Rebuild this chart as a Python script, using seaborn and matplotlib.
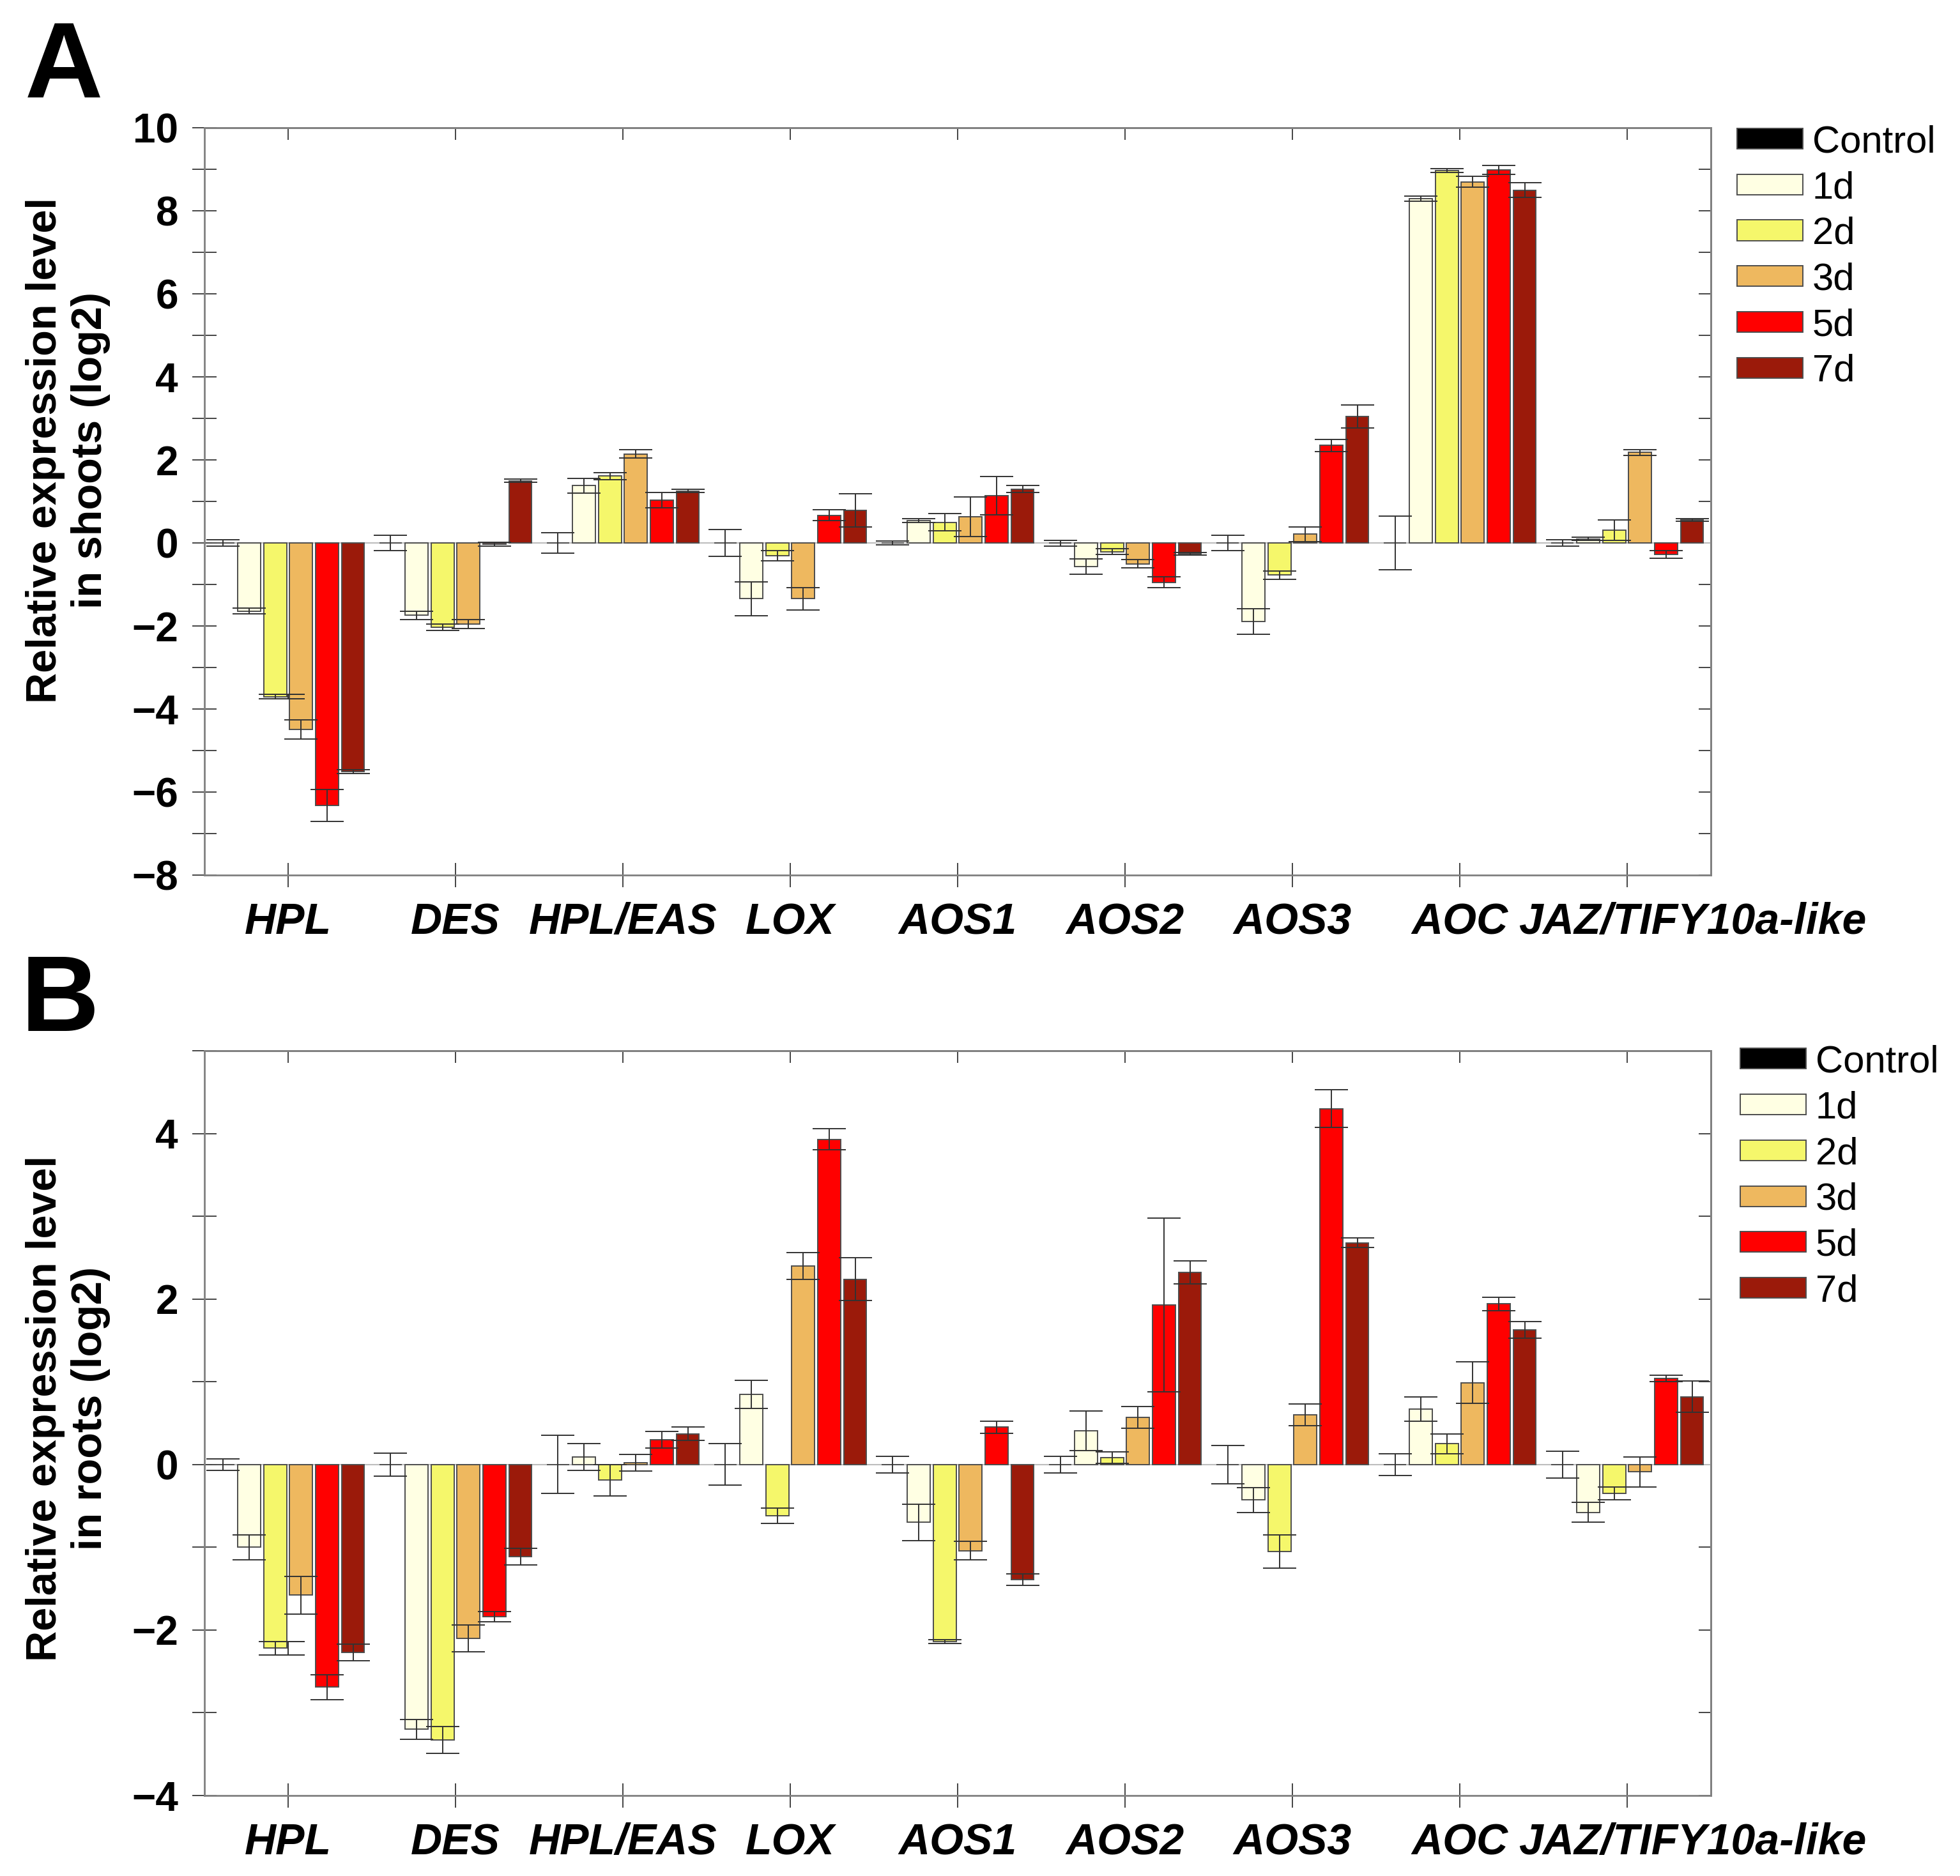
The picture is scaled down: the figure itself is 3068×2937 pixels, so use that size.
import numpy as np
import pandas as pd
import matplotlib
matplotlib.use("Agg")
import matplotlib.pyplot as plt
from matplotlib.ticker import MultipleLocator
from matplotlib.transforms import ScaledTranslation
import seaborn as sns

# ---------------- data ----------------
GENES = ["HPL", "DES", "HPL/EAS", "LOX", "AOS1", "AOS2", "AOS3", "AOC", "JAZ/TIFY10a-like"]
TIMES = ["Control", "1d", "2d", "3d", "5d", "7d"]
COLORS = ["#000000", "#FFFFE3", "#F5F76B", "#EEB85F", "#FF0000", "#9B1A0A"]

# Panel A: shoots (log2 relative expression), order follows GENES
SHOOT_CONTROL = [0.0, 0.0, 0.0, 0.0, 0.0, 0.0, 0.0, 0.0, 0.0]
SHOOT_1D = [-1.64, -1.74, 1.38, -1.34, 0.54, -0.57, -1.89, 8.29, 0.10]
SHOOT_2D = [-3.70, -2.03, 1.61, -0.31, 0.50, -0.21, -0.77, 8.97, 0.31]
SHOOT_3D = [-4.49, -1.95, 2.14, -1.34, 0.63, -0.50, 0.21, 8.70, 2.18]
SHOOT_5D = [-6.32, -0.03, 1.03, 0.67, 1.14, -0.95, 2.35, 8.99, -0.28]
SHOOT_7D = [-5.51, 1.50, 1.25, 0.78, 1.30, -0.26, 3.05, 8.50, 0.56]

SHOOT_CONTROL_ERR = [0.08, 0.19, 0.24, 0.32, 0.05, 0.07, 0.19, 0.65, 0.08]
SHOOT_1D_ERR = [0.07, 0.10, 0.18, 0.41, 0.04, 0.19, 0.31, 0.06, 0.04]
SHOOT_2D_ERR = [0.05, 0.07, 0.08, 0.12, 0.21, 0.07, 0.10, 0.05, 0.25]
SHOOT_3D_ERR = [0.23, 0.11, 0.10, 0.27, 0.48, 0.10, 0.18, 0.13, 0.07]
SHOOT_5D_ERR = [0.38, 0.05, 0.19, 0.13, 0.46, 0.13, 0.15, 0.11, 0.09]
SHOOT_7D_ERR = [0.05, 0.04, 0.04, 0.40, 0.08, 0.03, 0.28, 0.17, 0.03]

# Panel B: roots
ROOT_CONTROL = [0.0, 0.0, 0.0, 0.0, 0.0, 0.0, 0.0, 0.0, 0.0]
ROOT_1D = [-1.00, -3.20, 0.09, 0.85, -0.70, 0.41, -0.43, 0.67, -0.58]
ROOT_2D = [-2.22, -3.33, -0.19, -0.62, -2.14, 0.08, -1.05, 0.25, -0.35]
ROOT_3D = [-1.58, -2.10, 0.02, 2.40, -1.04, 0.57, 0.60, 0.99, -0.09]
ROOT_5D = [-2.69, -1.84, 0.30, 3.93, 0.45, 1.93, 4.30, 1.94, 1.04]
ROOT_7D = [-2.27, -1.11, 0.37, 2.24, -1.39, 2.32, 2.68, 1.63, 0.82]

ROOT_CONTROL_ERR = [0.07, 0.14, 0.35, 0.25, 0.10, 0.10, 0.23, 0.13, 0.16]
ROOT_1D_ERR = [0.15, 0.12, 0.16, 0.17, 0.22, 0.24, 0.15, 0.15, 0.12]
ROOT_2D_ERR = [0.08, 0.16, 0.19, 0.09, 0.02, 0.07, 0.20, 0.12, 0.08]
ROOT_3D_ERR = [0.23, 0.16, 0.10, 0.16, 0.11, 0.13, 0.13, 0.25, 0.18]
ROOT_5D_ERR = [0.15, 0.06, 0.10, 0.13, 0.07, 1.05, 0.23, 0.08, 0.04]
ROOT_7D_ERR = [0.10, 0.10, 0.08, 0.26, 0.07, 0.14, 0.06, 0.10, 0.19]

# ---------------- style ----------------
plt.rcParams['font.family'] = ['Liberation Sans', 'DejaVu Sans']
SPINE_C = "#808080"
TICK_C = "#444444"
EDGE_C = "#4d4d4d"
ERR_C = "#333333"
WIDTH = 0.93
NH = len(TIMES)


def fmt(v):
    return str(int(v)).replace("-", "\u2212")


def draw_panel(fig, ax, means, errs, ylim, major_ticks, ylabel, label_y, leg_anchor):
    rows = []
    for t, vals in zip(TIMES, means):
        for g, v in zip(GENES, vals):
            rows.append({"gene": g, "time": t, "value": v})
    df = pd.DataFrame(rows)

    ax.axhline(0, color="#BDBDBD", lw=1.5, zorder=0.8)
    sns.barplot(data=df, x="gene", y="value", hue="time", order=GENES,
                hue_order=TIMES, palette=COLORS, saturation=1, width=WIDTH,
                gap=0.12, errorbar=None, edgecolor=EDGE_C, linewidth=1.4,
                ax=ax, zorder=2)

    slot = WIDTH / NH
    xs, ys, es = [], [], []
    for p in ax.patches:
        if p.get_width() > 0.5:
            continue
        xc = p.get_x() + p.get_width() / 2
        gi = int(round(xc))
        hi = int(round((xc - gi) / slot + (NH - 1) / 2))
        xs.append(xc)
        ys.append(means[hi][gi])
        es.append(errs[hi][gi])
    ax.errorbar(xs, ys, yerr=es, fmt="none", ecolor=ERR_C, elinewidth=1.4,
                capsize=19, capthick=1.4, zorder=4)

    ax.set_xlim(-0.5, len(GENES) - 0.5)
    ax.set_ylim(*ylim)
    ax.set_xticks(range(len(GENES)), GENES, fontsize=49, fontweight="bold",
                  fontstyle="italic")
    ax.set_yticks(major_ticks, [fmt(v) for v in major_ticks], fontsize=46,
                  fontweight="bold")
    ax.yaxis.set_minor_locator(MultipleLocator(1))
    ax.tick_params(axis="y", which="both", direction="inout", length=27,
                   width=1.4, color=TICK_C, left=True, right=False, pad=16)
    ax.tick_params(axis="x", which="major", direction="inout", length=27,
                   width=1.4, color=TICK_C, bottom=True, top=False, pad=17)
    # the long last label sits to the right of its tick, as in the original
    last = ax.get_xticklabels()[-1]
    last.set_transform(last.get_transform()
                       + ScaledTranslation(1.02, 0, fig.dpi_scale_trans))
    ax.set_xlabel("")
    for s in ax.spines.values():
        s.set_color(SPINE_C)
        s.set_linewidth(2)

    secy = ax.secondary_yaxis("right")
    secy.set_yticks(np.arange(ylim[0], ylim[1] + 1, 1))
    secy.tick_params(axis="y", direction="in", length=14, width=1.4,
                     color=TICK_C, labelright=False)
    secx = ax.secondary_xaxis("top")
    secx.set_xticks(range(len(GENES)))
    secx.tick_params(axis="x", direction="in", length=14, width=1.4,
                     color=TICK_C, labeltop=False)
    for sec in (secy, secx):
        for s in sec.spines.values():
            s.set_color(SPINE_C)
            s.set_linewidth(2)

    ax.set_ylabel(ylabel, fontsize=48, fontweight="bold", linespacing=1.2)
    ax.yaxis.label.set(ha="center", va="center", rotation_mode="default")
    ax.yaxis.set_label_coords(-0.0905, label_y)

    handles, labels = ax.get_legend_handles_labels()
    ax.legend(handles, labels, loc="upper left", bbox_to_anchor=leg_anchor,
              frameon=False, prop={"size": 43, "weight": "normal"},
              handlelength=1.72, handleheight=0.45, handletextpad=0.25,
              labelspacing=0.28, borderpad=0, borderaxespad=0)


fig = plt.figure(figsize=(30.68, 29.37), dpi=100)
axA = fig.add_axes([0.1043, 0.5335, 0.7686, 0.3984])
axB = fig.add_axes([0.1043, 0.0429, 0.7686, 0.3970])

draw_panel(fig, axA,
           [SHOOT_CONTROL, SHOOT_1D, SHOOT_2D, SHOOT_3D, SHOOT_5D, SHOOT_7D],
           [SHOOT_CONTROL_ERR, SHOOT_1D_ERR, SHOOT_2D_ERR, SHOOT_3D_ERR,
            SHOOT_5D_ERR, SHOOT_7D_ERR],
           (-8, 10), list(range(-8, 11, 2)),
           "Relative expression level\nin shoots (log2)", 0.568,
           (1.0174, 1.004))

draw_panel(fig, axB,
           [ROOT_CONTROL, ROOT_1D, ROOT_2D, ROOT_3D, ROOT_5D, ROOT_7D],
           [ROOT_CONTROL_ERR, ROOT_1D_ERR, ROOT_2D_ERR, ROOT_3D_ERR,
            ROOT_5D_ERR, ROOT_7D_ERR],
           (-4, 5), list(range(-4, 5, 2)),
           "Relative expression level\nin roots (log2)", 0.52,
           (1.0195, 1.008))

fig.text(0.0125, 0.9479, "A", fontsize=122, fontweight="bold", va="baseline",
         ha="left")
fig.text(0.0105, 0.4505, "B", fontsize=122, fontweight="bold", va="baseline",
         ha="left")

fig.savefig("out.png", dpi=100)
